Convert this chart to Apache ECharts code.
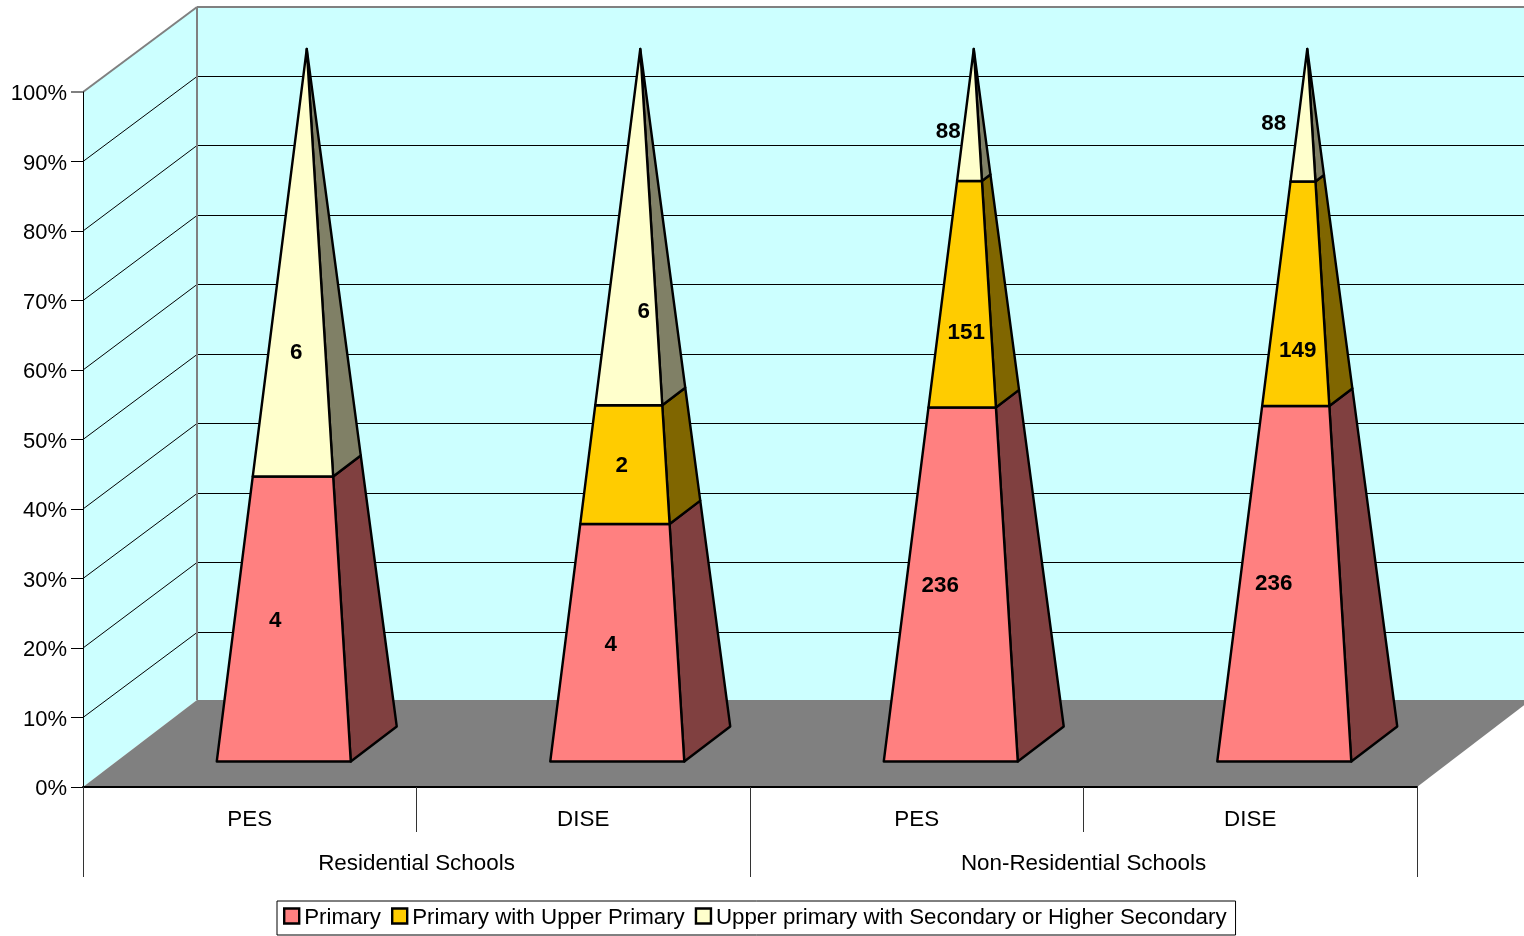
<!DOCTYPE html>
<html>
<head>
<meta charset="utf-8">
<style>html,body{margin:0;padding:0;background:#fff}#c{width:1524px;height:936px}</style>
<script src="https://cdn.jsdelivr.net/npm/echarts@6/dist/echarts.min.js"></script>
</head>
<body>
<div id="c"></div>
<script>
// ---- data ----
const schoolTypes = ['Residential Schools', 'Non-Residential Schools'];
const sources = ['PES', 'DISE', 'PES', 'DISE'];
const primary = [4, 4, 236, 236];
const primaryUpper = [0, 2, 151, 149];
const upperSecondary = [6, 6, 88, 88];
const valueTicks = [0, 10, 20, 30, 40, 50, 60, 70, 80, 90, 100];
const seriesNames = ['Primary', 'Primary with Upper Primary', 'Upper primary with Secondary or Higher Secondary'];

// ---- data-label placement (axis level in %, pixel shift from pyramid axis) ----
const primaryLabelLevel = [18.0, 14.5, 23.0, 23.2];
const primaryLabelShift = [-32, -30, -34, -34];
const primaryUpperLabelLevel = [0, 40.3, 59.4, 56.8];
const primaryUpperLabelShift = [0, -19, -8, -10];
const upperSecondaryLabelLevel = [56.5, 62.4, 88.3, 89.5];
const upperSecondaryLabelShift = [-11, 3, -26, -34];

// ---- look ----
const FONT = '"Liberation Sans", Arial, sans-serif';
const FONT_SIZE = 22.4;
const LEGEND_FONT_SIZE = 22.3;
const DEPTH_X = 114, DEPTH_Y = 86;
const HALF_W = 67, HALF_DX = 23, HALF_DY = 17.5;
const frontColors = ['#FF8080', '#FFCC00', '#FFFFCC'];
const sideColors = ['#804040', '#806600', '#808066'];

const valueLists = [primary, primaryUpper, upperSecondary];
const labelLevels = [primaryLabelLevel, primaryUpperLabelLevel, upperSecondaryLabelLevel];
const labelShifts = [primaryLabelShift, primaryUpperLabelShift, upperSecondaryLabelShift];

function segmentRows(k) {
  return sources.map((_, i) => {
    const total = valueLists.reduce((s, l) => s + l[i], 0);
    let below = 0;
    for (let j = 0; j < k; j++) below += valueLists[j][i];
    return [i, below / total * 100, (below + valueLists[k][i]) / total * 100, valueLists[k][i]];
  });
}

function renderWalls(params, api) {
  const y0 = api.coord([0, 0])[1];
  const cs = params.coordSys;
  const left = cs.x, right = cs.x + cs.width;
  const yTop = api.coord([0, 100])[1];
  const backTop = yTop - DEPTH_Y + 1;
  const backFloor = y0 - DEPTH_Y - 1;
  const kids = [];
  const poly = (pts, fill) => ({type: 'polygon', shape: {points: pts}, style: {fill: fill}, silent: true});
  const line = (a, b, col, w) => ({type: 'line', shape: {x1: a[0], y1: a[1], x2: b[0], y2: b[1]},
    style: {stroke: col, lineWidth: w}, silent: true});
  // back wall, left wall
  kids.push(poly([[left + DEPTH_X, backTop], [right + DEPTH_X, backTop], [right + DEPTH_X, backFloor], [left + DEPTH_X, backFloor]], '#CCFFFF'));
  kids.push(poly([[left, yTop], [left + DEPTH_X, backTop], [left + DEPTH_X, backFloor], [left, y0]], '#CCFFFF'));
  // grid lines on both walls, snapped to whole pixel rows on the back wall
  valueTicks.forEach(v => {
    if (v === 0 || v === 100) return;
    const y = api.coord([0, v])[1];
    const by = Math.ceil(y - DEPTH_Y) + 0.5;
    kids.push(line([left, y], [left + DEPTH_X, by], '#000', 1));
    kids.push(line([left + DEPTH_X, by], [right + DEPTH_X, by], '#000', 1));
  });
  // grey frame
  kids.push(line([left, yTop], [left + DEPTH_X, backTop], '#808080', 2));
  kids.push(line([left + DEPTH_X, backTop], [right + DEPTH_X, backTop], '#808080', 2));
  kids.push(line([left + DEPTH_X, backTop], [left + DEPTH_X, backFloor], '#808080', 2));
  // floor
  kids.push(poly([[left, y0], [left + DEPTH_X, backFloor], [right + DEPTH_X, backFloor], [right, y0]], '#808080'));
  return {type: 'group', children: kids};
}

function renderTrim(params, api) {
  const cs = params.coordSys;
  const yTop = api.coord([0, 100])[1];
  return {type: 'line', silent: true, shape: {x1: cs.x - 12, y1: yTop, x2: cs.x, y2: yTop},
    style: {stroke: '#808080', lineWidth: 2}};
}

function makeRender(k) {
  return function (params, api) {
    const i = api.value(0), from = api.value(1), to = api.value(2), val = api.value(3);
    if (!val) return {type: 'group', children: []};
    const cx = api.coord([i, 0])[0] + DEPTH_X / 2;
    const y0 = api.coord([0, 0])[1] - DEPTH_Y / 2;
    const y100 = api.coord([0, 100])[1] - DEPTH_Y / 2;
    const section = (pct) => {
      const s = 1 - pct / 100;
      const y = y0 + (y100 - y0) * pct / 100;
      return {
        fl: [cx - s * (HALF_W + HALF_DX), y + s * HALF_DY],
        fr: [cx + s * (HALF_W - HALF_DX), y + s * HALF_DY],
        br: [cx + s * (HALF_W + HALF_DX), y - s * HALF_DY]
      };
    };
    const a = section(from), b = section(to);
    const edge = {stroke: '#000', lineWidth: 2.4, lineJoin: 'round'};
    const lvl = labelLevels[k][i];
    return {type: 'group', children: [
      {type: 'polygon', shape: {points: [a.fr, a.br, b.br, b.fr]},
        style: Object.assign({fill: sideColors[k]}, edge)},
      {type: 'polygon', shape: {points: [a.fl, a.fr, b.fr, b.fl]},
        style: Object.assign({fill: frontColors[k]}, edge)},
      {type: 'text', z2: 10, style: {
        text: String(val), x: cx + labelShifts[k][i] + 0.5, y: y0 + (y100 - y0) * lvl / 100 + 1.5,
        align: 'center', verticalAlign: 'middle', fill: '#000',
        font: 'bold ' + FONT_SIZE + 'px ' + FONT}}
    ]};
  };
}

const chart = echarts.init(document.getElementById('c'), null, {renderer: 'canvas', width: 1524, height: 936});
chart.setOption({
  animation: false,
  backgroundColor: '#fff',
  grid: {left: 83, top: 92, width: 1334, height: 695, containLabel: false},
  legend: {
    data: seriesNames, left: 277, top: 901, icon: 'rect', itemWidth: 15, itemHeight: 15,
    itemGap: 10, padding: [6, 9, 6, 6], borderColor: '#000', borderWidth: 1, backgroundColor: '#fff',
    selectedMode: false,
    formatter: '{t|{name}}',
    textStyle: {fontFamily: FONT, fontSize: LEGEND_FONT_SIZE, color: '#000',
      rich: {t: {fontFamily: FONT, fontSize: LEGEND_FONT_SIZE, color: '#000', padding: [4, 0, 0, 0]}}},
    itemStyle: {borderColor: '#000', borderWidth: 2.4}
  },
  xAxis: [
    {type: 'category', data: sources, position: 'bottom', z: 3,
     axisLine: {show: true, lineStyle: {color: '#000', width: 2}},
     axisTick: {show: true, length: 45, lineStyle: {color: '#333', width: 1}},
     axisLabel: {interval: 0, color: '#000', fontFamily: FONT, fontSize: FONT_SIZE, margin: 22},
     splitLine: {show: false}},
    {type: 'category', data: schoolTypes, position: 'bottom', z: 3,
     axisLine: {show: false},
     axisTick: {show: true, length: 90, lineStyle: {color: '#333', width: 1}},
     axisLabel: {interval: 0, color: '#000', fontFamily: FONT, fontSize: FONT_SIZE, margin: 66},
     splitLine: {show: false}}
  ],
  yAxis: {type: 'value', min: 0, max: 100, interval: 10, z: 3,
    axisLine: {show: true, lineStyle: {color: '#000', width: 1}},
    axisTick: {show: true, length: 12, lineStyle: {color: '#000', width: 1}},
    axisLabel: {formatter: '{t|{value}%}', color: '#000', fontFamily: FONT, fontSize: 22, margin: 16,
      rich: {t: {fontFamily: FONT, fontSize: 22, color: '#000', padding: [4, 0, 0, 0]}}},
    splitLine: {show: false}},
  series: [
    {type: 'custom', z: 1, silent: true, clip: false, data: [[0, 0]], renderItem: renderWalls,
     encode: {x: 0, y: 1}, tooltip: {show: false}},
    {type: 'custom', z: 6, silent: true, clip: false, data: [[0, 100]], renderItem: renderTrim,
     encode: {x: 0, y: 1}}
  ].concat(seriesNames.map((name, k) => ({
    type: 'custom', name: name, z: 8, clip: false, silent: true,
    itemStyle: {color: frontColors[k]},
    data: segmentRows(k), renderItem: makeRender(k),
    encode: {x: 0, y: [1, 2]}
  })))
});
</script>
</body>
</html>
